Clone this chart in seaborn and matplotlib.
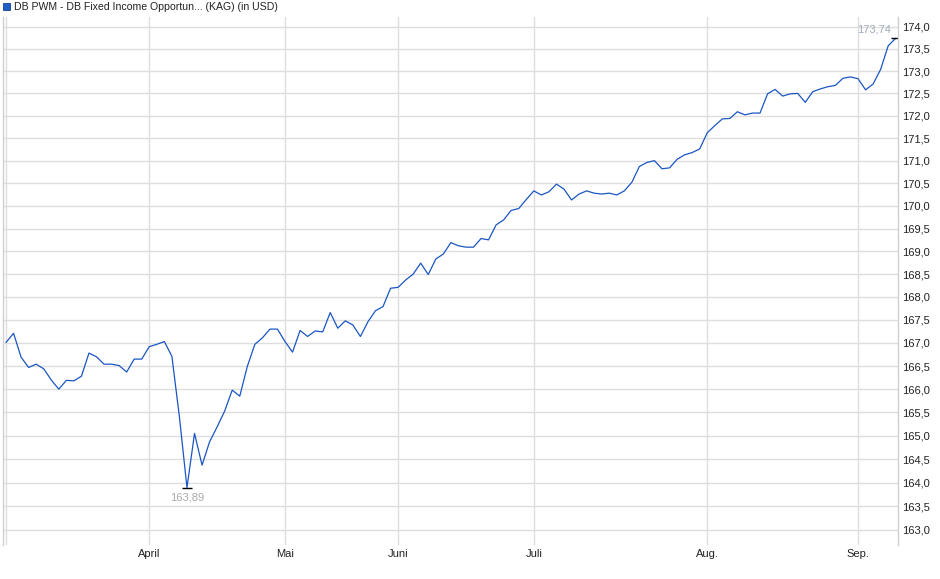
import numpy as np
import pandas as pd
import matplotlib
matplotlib.use('Agg')
import matplotlib.pyplot as plt
import seaborn as sns
from matplotlib.patches import Rectangle
from matplotlib.ticker import FixedLocator, FuncFormatter, NullLocator

prices = [
    167.01, 167.21, 166.69, 166.47, 166.54, 166.44, 166.20, 166.00, 166.19, 166.18,
    166.28, 166.78, 166.70, 166.54, 166.54, 166.51, 166.37, 166.65, 166.65, 166.92,
    166.97, 167.03, 166.71, 165.40, 163.89, 165.05, 164.37, 164.87, 165.19, 165.53,
    165.98, 165.85, 166.49, 166.97, 167.11, 167.30, 167.30, 167.03, 166.80, 167.27,
    167.14, 167.26, 167.24, 167.66, 167.32, 167.48, 167.39, 167.14, 167.46, 167.70,
    167.79, 168.19, 168.21, 168.37, 168.50, 168.74, 168.49, 168.83, 168.94, 169.19,
    169.12, 169.09, 169.09, 169.28, 169.25, 169.58, 169.69, 169.90, 169.94, 170.14,
    170.33, 170.24, 170.31, 170.48, 170.37, 170.13, 170.26, 170.33, 170.28, 170.26,
    170.28, 170.24, 170.33, 170.52, 170.87, 170.96, 171.00, 170.82, 170.84, 171.03,
    171.13, 171.18, 171.26, 171.62, 171.78, 171.93, 171.94, 172.09, 172.02, 172.06,
    172.06, 172.49, 172.59, 172.44, 172.49, 172.50, 172.30, 172.54, 172.60, 172.65,
    172.68, 172.84, 172.87, 172.83, 172.58, 172.71, 173.04, 173.57, 173.74,
]

# erster Handelstag je Monat (Index in prices)
month_pos = [0, 19, 37, 52, 70, 93, 113]
month_labels = ['', 'April', 'Mai', 'Juni', 'Juli', 'Aug.', 'Sep.']

y_ticks = np.arange(163.0, 174.01, 0.5)
title = 'DB PWM - DB Fixed Income Opportun... (KAG) (in USD)'

sns.set_style('white')
plt.rcParams['font.family'] = ['Liberation Sans', 'DejaVu Sans']

W, H = 940, 579
fig = plt.figure(figsize=(W / 100, H / 100), dpi=100)
ax = fig.add_axes([3 / W, 34 / H, 895 / W, 528 / H])

df = pd.DataFrame({'tag': np.arange(len(prices)), 'kurs': prices})
sns.lineplot(data=df, x='tag', y='kurs', ax=ax, color='#1a56c2', lw=0.9)

ax.set_yscale('log')
ax.set_ylim(162.675, 174.22)
ax.set_xlim(-0.4, 118.3)
ax.yaxis.set_major_locator(FixedLocator(y_ticks))
ax.yaxis.set_minor_locator(NullLocator())
ax.yaxis.set_major_formatter(FuncFormatter(lambda v, p: f'{v:.1f}'.replace('.', ',')))
ax.yaxis.tick_right()
ax.set_xticks(month_pos)
ax.set_xticklabels(month_labels)
ax.tick_params(axis='both', length=0, labelsize=8, labelcolor='#222222')
ax.tick_params(axis='y', pad=3)
ax.tick_params(axis='x', pad=3)
ax.set_xlabel('')
ax.set_ylabel('')

ax.grid(True, color='#dedede', lw=1)
ax.set_axisbelow(True)
for s in ['top', 'bottom']:
    ax.spines[s].set_visible(False)
for s in ['left', 'right']:
    ax.spines[s].set_color('#d0d0d0')
    ax.spines[s].set_linewidth(1)

# Tief und letzter Kurs markieren
i_min = int(np.argmin(prices))
i_last = len(prices) - 1
for i in (i_min, i_last):
    ax.plot(i, prices[i], marker='_', ms=7, mew=1, color='black')
ax.annotate(f'{prices[i_min]:.2f}'.replace('.', ','), (i_min, prices[i_min]),
            xytext=(0, -10), textcoords='offset pixels', ha='center', va='center',
            fontsize=8, color='#aaa8ac')
ax.annotate(f'{prices[i_last]:.2f}'.replace('.', ','), (i_last, prices[i_last]),
            xytext=(-5, 9), textcoords='offset pixels', ha='right', va='center',
            fontsize=8, color='#9eaabb')

# Legende oben links
fig.patches.append(Rectangle((3 / W, 1 - 10 / H), 7 / W, 7 / H, transform=fig.transFigure,
                             facecolor='#1f5fc8', edgecolor='#143f8a', lw=0.6))
fig.text(14 / W, 1 - 6.5 / H, title, fontsize=7.6, color='#222222', va='center', ha='left')

fig.savefig('out.png', dpi=100, facecolor='white')
